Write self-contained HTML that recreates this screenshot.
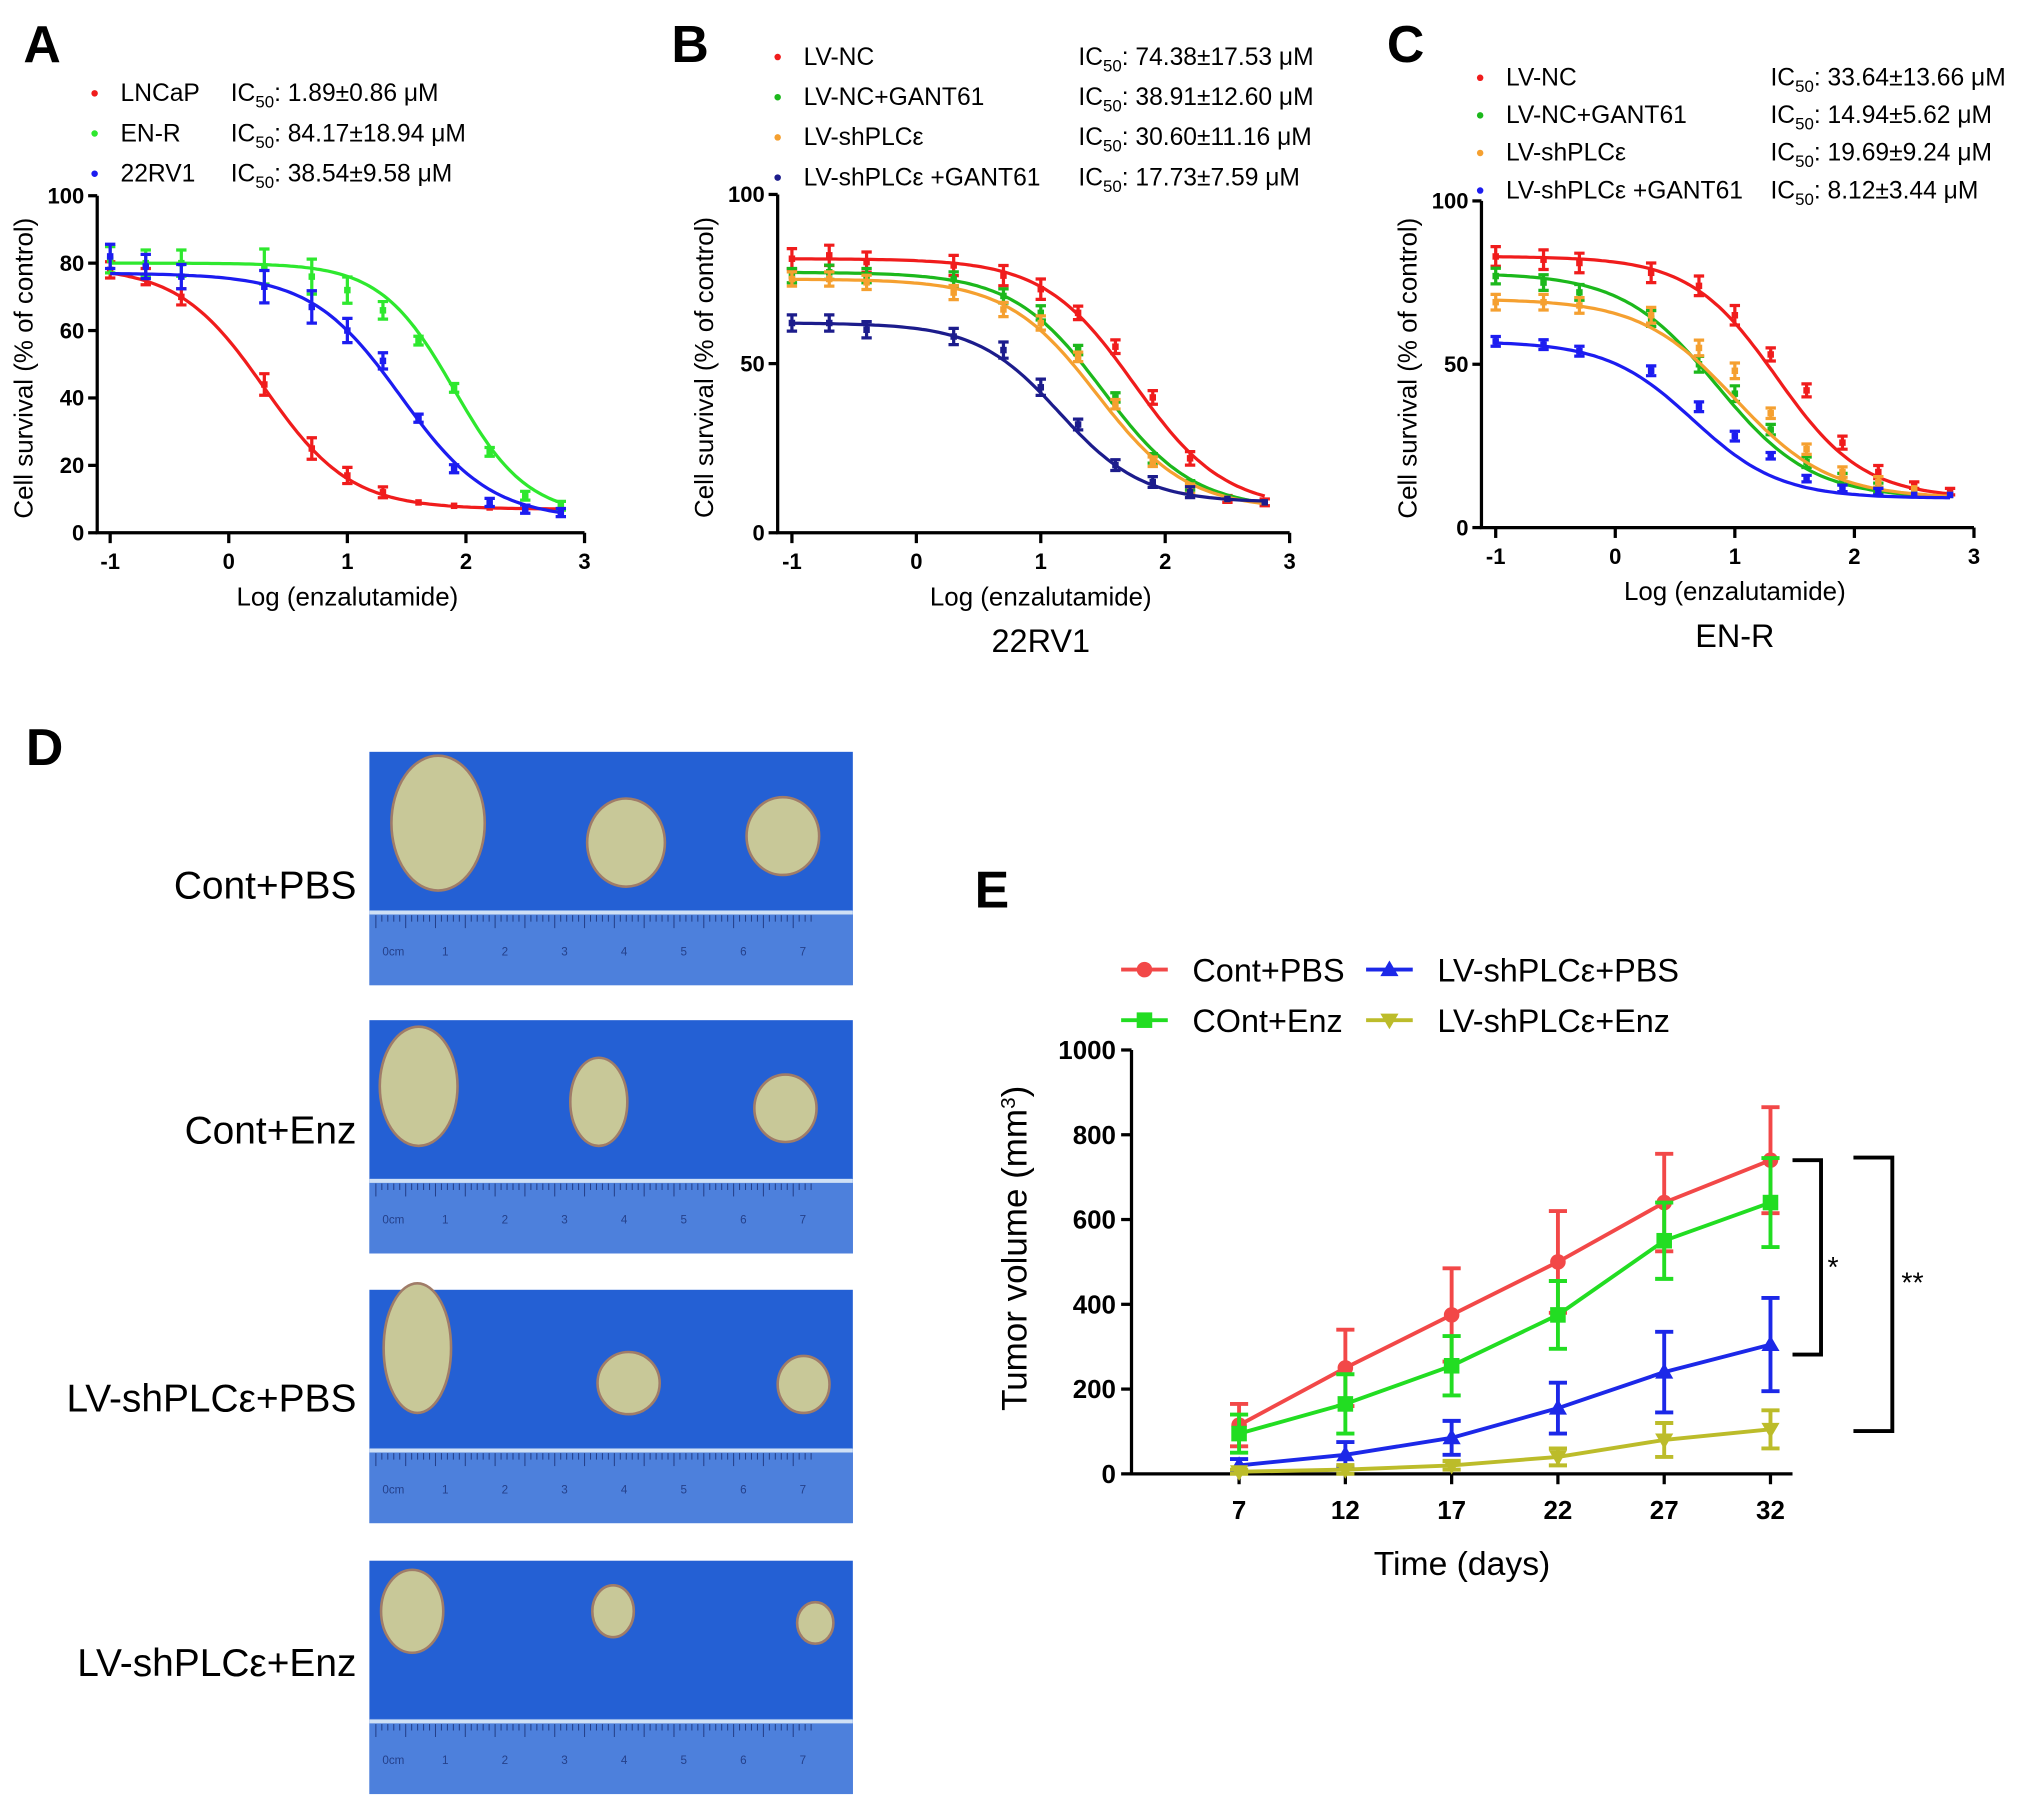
<!DOCTYPE html>
<html><head><meta charset="utf-8"><style>
html,body{margin:0;padding:0;background:#fff;}
svg{display:block;font-family:"Liberation Sans","DejaVu Sans",sans-serif;}
</style></head><body>
<svg id="fig" width="2031" height="1807" viewBox="0 0 1567 1394" preserveAspectRatio="none" xmlns="http://www.w3.org/2000/svg">
<g id="labels" font-weight="bold" font-size="40">
<text x="18" y="48">A</text>
<text x="518" y="48">B</text>
<text x="1070" y="48">C</text>
<text x="20" y="590">D</text>
<text x="752" y="700">E</text>
</g>
</svg>
<script>
const NS="http://www.w3.org/2000/svg";
const svg=document.getElementById('fig');
function mk(tag,attrs,parent,text){const e=document.createElementNS(NS,tag);for(const k in attrs)e.setAttribute(k,attrs[k]);if(text!==undefined)e.textContent=text;(parent||svg).appendChild(e);return e;}

// ---------- data panel A ----------
const xA=[-1,-0.7,-0.4,0.3,0.7,1,1.3,1.6,1.9,2.2,2.5,2.8];
const aNames=["LNCaP","EN-R","22RV1"];
const aIC=["1.89±0.86 μM","84.17±18.94 μM","38.54±9.58 μM"];
const aLNCaP=[78,76,70,44,25,17,12,9,8,7.5,7,7];
const aENR=[81,80,80,79,76,72,66,57,43,24,11,8];
const a22RV1=[82,79,76,73,67,60,51,34,19,9,7,6];
const aTop=[79,80,77], aBottom=[7,5,4], aLogEC=[0.3,1.9,1.45], aHill=[1.2,1.4,1.15];
const aErr=[3,3,3,4,4,3,2,1,1,1,1,1];
// ---------- panel B ----------
const xB=[-1,-0.7,-0.4,0.3,0.7,1,1.3,1.6,1.9,2.2,2.5,2.8];
const bNames=["LV-NC","LV-NC+GANT61","LV-shPLCε","LV-shPLCε  +GANT61"];
const bIC=["74.38±17.53 μM","38.91±12.60 μM","30.60±11.16 μM","17.73±7.59 μM"];
const bNC=[81,82,80,79,76,72,65,55,40,22,10,9];
const bGANT=[76,77,76,75,70,65,54,40,22,14,10,9];
const bSh=[75,75,74,71,66,62,52,38,21,13,10,9];
const bShG=[62,62,60,58,54,43,32,20,15,12,10,9];
const bTop=[81,77,75,62], bBottom=[7,7,7,9], bLogEC=[1.75,1.5,1.45,1.15], bHill=[1.2,1.2,1.2,1.3];
// ---------- panel C ----------
const xC=[-1,-0.6,-0.3,0.3,0.7,1,1.3,1.6,1.9,2.2,2.5,2.8];
const cNames=["LV-NC","LV-NC+GANT61","LV-shPLCε","LV-shPLCε  +GANT61"];
const cIC=["33.64±13.66 μM","14.94±5.62 μM","19.69±9.24 μM","8.12±3.44 μM"];
const cNC=[83,82,81,78,74,65,53,42,26,17,13,11];
const cGANT=[77,75,72,64,50,41,30,20,15,12,11,10];
const cSh=[69,69,68,65,55,48,35,24,17,14,12,10];
const cShG=[57,56,54,48,37,28,22,15,12,11,10,10];
const cTop=[83,78,70,57], cBottom=[9,9,9,9], cLogEC=[1.35,0.85,1.0,0.65], cHill=[1.2,1.1,1.1,1.2];
// ---------- panel E ----------
const days=[7,12,17,22,27,32];
const eNames=["Cont+PBS","COnt+Enz","LV-shPLCε+PBS","LV-shPLCε+Enz"];
const eContPBS=[115,250,375,500,640,740];
const eContPBSErr=[50,90,110,120,115,125];
const eContEnz=[95,165,255,375,550,640];
const eContEnzErr=[45,70,70,80,90,105];
const eShPBS=[20,45,85,155,240,305];
const eShPBSErr=[15,30,40,60,95,110];
const eShEnz=[5,10,20,40,80,105];
const eShEnzErr=[5,10,10,20,40,45];
const eTicks=[0,200,400,600,800,1000];

function doseChart(cfg){
  const g=mk('g',{});
  
  
  const X=v=>cfg.x0+(v+1)*(cfg.x1-cfg.x0)/4;
  const Y=v=>cfg.y0-v*(cfg.y0-cfg.y1)/100;
  const ax=mk('path',{d:`M${cfg.ax},${cfg.y1}V${cfg.y0}H${cfg.x1}`,fill:'none',stroke:'#000','stroke-width':2.5},g);
  
  cfg.yt.forEach(t=>{mk('line',{x1:cfg.ax-7,x2:cfg.ax,y1:Y(t),y2:Y(t),stroke:'#000','stroke-width':2.5},g);
    const tl=mk('text',{x:cfg.ax-10,y:Y(t)+6,'text-anchor':'end','font-size':17,'font-weight':'bold'},g,t);
    });
  [-1,0,1,2,3].forEach(t=>{mk('line',{x1:X(t),x2:X(t),y1:cfg.y0,y2:cfg.y0+8,stroke:'#000','stroke-width':2.5},g);
    const tl=mk('text',{x:X(t),y:cfg.y0+28,'text-anchor':'middle','font-size':17,'font-weight':'bold'},g,t);
    });
  const xt=mk('text',{x:(cfg.x0+cfg.x1)/2,y:cfg.y0+56,'text-anchor':'middle','font-size':20},g,'Log (enzalutamide)');
  
  const yt=mk('text',{x:0,y:0,'text-anchor':'middle','font-size':20,transform:`translate(${cfg.ax-50},${(cfg.y0+cfg.y1)/2+3}) rotate(-90)`},g,'Cell survival (% of control)');
  
  cfg.series.forEach((s,i)=>{
    let d='';for(let k=0;k<=120;k++){const lx=-1+3.8*k/120;const v=s.bot+(s.top-s.bot)/(1+Math.pow(10,(lx-s.ec)*s.hill));d+=(k?'L':'M')+X(lx).toFixed(1)+','+Y(v).toFixed(1);}
    const c=mk('path',{d,fill:'none',stroke:s.color,'stroke-width':2.5},g);
    
    s.vals.forEach((v,j)=>{
      const e=cfg.err[j]*s.errScale;const px=X(cfg.xs[j]);
      if(e>0.8){mk('path',{d:`M${px},${Y(v-e)}V${Y(v+e)}M${px-4},${Y(v+e)}h8M${px-4},${Y(v-e)}h8`,stroke:s.color,'stroke-width':2.5,fill:'none'},g);}
      const p=mk('rect',{x:px-2.5,y:Y(v)-2.5,width:5,height:5,fill:s.color},g);
      
    });
    const ly=cfg.ly+i*cfg.lstep;
    const lm=mk('circle',{cx:cfg.lx,cy:ly-6,r:2.5,fill:s.color},g);
    
    const lt=mk('text',{x:cfg.lx+20,y:ly,'font-size':19},g,s.label);
    
    const ic=mk('text',{x:cfg.icx,y:ly,'font-size':19},g);
    
    ic.innerHTML='IC<tspan font-size="13" dy="5">50</tspan><tspan dy="-5">: '+s.ic+'</tspan>';
  });
  if(cfg.sub){const st=mk('text',{x:(cfg.x0+cfg.x1)/2,y:cfg.y0+92,'text-anchor':'middle','font-size':25},g,cfg.sub);
    }
}
const errDef=[3,3,3,3,3,3,2,2,2,2,1,1];
doseChart({name:'panel-a-chart',ax:75,x0:85,x1:451,y0:411,y1:151,yt:[0,20,40,60,80,100],xs:xA,err:aErr,lx:73,ly:78,lstep:31,icx:178,
 series:[
  {key:'lncap',label:aNames[0],ic:aIC[0],color:'#f01c1c',vals:aLNCaP,top:aTop[0],bot:aBottom[0],ec:aLogEC[0],hill:aHill[0],errScale:0.8},
  {key:'en-r',label:aNames[1],ic:aIC[1],color:'#2ee82e',vals:aENR,top:aTop[1],bot:aBottom[1],ec:aLogEC[1],hill:aHill[1],errScale:1.3},
  {key:'22rv1',label:aNames[2],ic:aIC[2],color:'#1c1cf0',vals:a22RV1,top:aTop[2],bot:aBottom[2],ec:aLogEC[2],hill:aHill[2],errScale:1.2}]});
doseChart({name:'panel-b-chart',ax:600,x0:611,x1:995,y0:411,y1:150,yt:[0,50,100],xs:xB,err:errDef,lx:600,ly:50,lstep:31,icx:832,sub:'22RV1',
 series:[
  {key:'lv-nc',label:bNames[0],ic:bIC[0],color:'#f01c1c',vals:bNC,top:bTop[0],bot:bBottom[0],ec:bLogEC[0],hill:bHill[0],errScale:1},
  {key:'gant61',label:bNames[1],ic:bIC[1],color:'#1cb81c',vals:bGANT,top:bTop[1],bot:bBottom[1],ec:bLogEC[1],hill:bHill[1],errScale:0.7},
  {key:'shplce',label:bNames[2],ic:bIC[2],color:'#f5a030',vals:bSh,top:bTop[2],bot:bBottom[2],ec:bLogEC[2],hill:bHill[2],errScale:0.7},
  {key:'shplce-gant61',label:bNames[3],ic:bIC[3],color:'#1c1c8c',vals:bShG,top:bTop[3],bot:bBottom[3],ec:bLogEC[3],hill:bHill[3],errScale:0.8}]});
doseChart({name:'panel-c-chart',ax:1143,x0:1154,x1:1523,y0:407,y1:155,yt:[0,50,100],xs:xC,err:errDef,lx:1142,ly:66,lstep:29,icx:1366,sub:'EN-R',
 series:[
  {key:'lv-nc',label:cNames[0],ic:cIC[0],color:'#f01c1c',vals:cNC,top:cTop[0],bot:cBottom[0],ec:cLogEC[0],hill:cHill[0],errScale:1},
  {key:'gant61',label:cNames[1],ic:cIC[1],color:'#1cb81c',vals:cGANT,top:cTop[1],bot:cBottom[1],ec:cLogEC[1],hill:cHill[1],errScale:0.8},
  {key:'shplce',label:cNames[2],ic:cIC[2],color:'#f5a030',vals:cSh,top:cTop[2],bot:cBottom[2],ec:cLogEC[2],hill:cHill[2],errScale:0.8},
  {key:'shplce-gant61',label:cNames[3],ic:cIC[3],color:'#1c1cf0',vals:cShG,top:cTop[3],bot:cBottom[3],ec:cLogEC[3],hill:cHill[3],errScale:0.5}]});

// ---------- panel D photos ----------
const photoLabels=["Cont+PBS","Cont+Enz","LV-shPLCε+PBS","LV-shPLCε+Enz"];
const photoY=[580,787,995,1204];
const labelY=[693,882,1089,1293];
const tumors=[[[338,635,36,52],[483,650,30,34],[604,645,28,30]],[[323,838,30,46],[462,850,22,34],[606,855,24,26]],[[322,1040,26,50],[485,1067,24,24],[620,1068,20,22]],[[318,1243,24,32],[473,1243,16,20],[629,1252,14,16]]];
const gd=mk('g',{});


photoY.forEach((y,i)=>{
  const r=mk('rect',{x:285,y:y,width:373,height:180,fill:'#2460d4'},gd);
  
  mk('rect',{x:285,y:y+122,width:373,height:58,fill:'#4d80dc'},gd);
  mk('line',{x1:285,x2:658,y1:y+124,y2:y+124,stroke:'#cfe0f5','stroke-width':3},gd);
  for(let t=0;t<74;t++){mk('line',{x1:290+t*4.6,x2:290+t*4.6,y1:y+126,y2:y+(t%5?131:136),stroke:'#25408a','stroke-width':0.8},gd);}
  for(let n=0;n<8;n++){mk('text',{x:295+n*46,y:y+157,'font-size':9,fill:'#25408a'},gd,n===0?'0cm':n);}
  tumors[i].forEach(t=>{const e=mk('ellipse',{cx:t[0],cy:t[1],rx:t[2],ry:t[3],fill:'#c8c898',stroke:'#a07c68','stroke-width':2},gd);
    });
  const l=mk('text',{x:275,y:labelY[i],'text-anchor':'end','font-size':30},gd,photoLabels[i]);
  
});

// ---------- panel E ----------
const ge=mk('g',{});


const EX=d=>956+(d-7)*82/5;
const EY=v=>1137-v*327/1000;
const eax=mk('path',{d:`M873,${EY(1000)}V1137H1383`,fill:'none',stroke:'#000','stroke-width':2.5},ge);

eTicks.forEach(t=>{mk('line',{x1:865,x2:873,y1:EY(t),y2:EY(t),stroke:'#000','stroke-width':2.5},ge);
  const tl=mk('text',{x:861,y:EY(t)+7,'text-anchor':'end','font-size':20,'font-weight':'bold'},ge,t);
  });
days.forEach(d=>{mk('line',{x1:EX(d),x2:EX(d),y1:1137,y2:1145,stroke:'#000','stroke-width':2.5},ge);
  const tl=mk('text',{x:EX(d),y:1172,'text-anchor':'middle','font-size':20,'font-weight':'bold'},ge,d);
  });
const ext=mk('text',{x:1128,y:1215,'text-anchor':'middle','font-size':26},ge,'Time (days)');

const eyt=mk('text',{x:0,y:0,'text-anchor':'middle','font-size':27,transform:'translate(792,963) rotate(-90)'},ge);

eyt.innerHTML='Tumor volume (mm<tspan font-size="16" dy="-9">3</tspan><tspan dy="9">)</tspan>';
function marker(type,x,y,color,parent){
  if(type==='c')return mk('circle',{cx:x,cy:y,r:6,fill:color},parent);
  if(type==='s')return mk('rect',{x:x-6,y:y-6,width:12,height:12,fill:color},parent);
  if(type==='t')return mk('path',{d:`M${x},${y-7}L${x+7},${y+5}H${x-7}Z`,fill:color},parent);
  return mk('path',{d:`M${x},${y+7}L${x+7},${y-5}H${x-7}Z`,fill:color},parent);
}
const eSeries=[
 {key:'cont-pbs',vals:eContPBS,err:eContPBSErr,color:'#f24848',m:'c'},
 {key:'cont-enz',vals:eContEnz,err:eContEnzErr,color:'#22dd22',m:'s'},
 {key:'shplce-pbs',vals:eShPBS,err:eShPBSErr,color:'#1c28e8',m:'t'},
 {key:'shplce-enz',vals:eShEnz,err:eShEnzErr,color:'#bcbc2a',m:'v'}];
eSeries.forEach(s=>{
  let d='';s.vals.forEach((v,j)=>{d+=(j?'L':'M')+EX(days[j])+','+EY(v);});
  const ln=mk('path',{d,fill:'none',stroke:s.color,'stroke-width':3},ge);
  
  s.vals.forEach((v,j)=>{const x=EX(days[j]);const e=s.err[j];
    mk('path',{d:`M${x},${EY(Math.max(0,v-e))}V${EY(v+e)}M${x-7},${EY(v+e)}h14M${x-7},${EY(Math.max(0,v-e))}h14`,stroke:s.color,'stroke-width':3,fill:'none'},ge);
    const p=marker(s.m,x,EY(v),s.color,ge);
    });
});
const legPos=[[883,748],[883,787],[1072,748],[1072,787]];
eSeries.forEach((s,i)=>{const [x,y]=legPos[i];
  mk('line',{x1:x-18,x2:x+18,y1:y,y2:y,stroke:s.color,'stroke-width':3},ge);
  marker(s.m,x,y,s.color,ge);
  const t=mk('text',{x:x+37,y:y+9,'font-size':25},ge,eNames[i]);
  });
const b1=mk('path',{d:'M1383,895H1405V1045H1383',fill:'none',stroke:'#000','stroke-width':3},ge);

const b2=mk('path',{d:'M1430,893H1460V1104H1430',fill:'none',stroke:'#000','stroke-width':3},ge);

const s1=mk('text',{x:1410,y:985,'font-size':22},ge,'*');

const s2=mk('text',{x:1467,y:997,'font-size':22},ge,'**');

</script>
</body></html>
